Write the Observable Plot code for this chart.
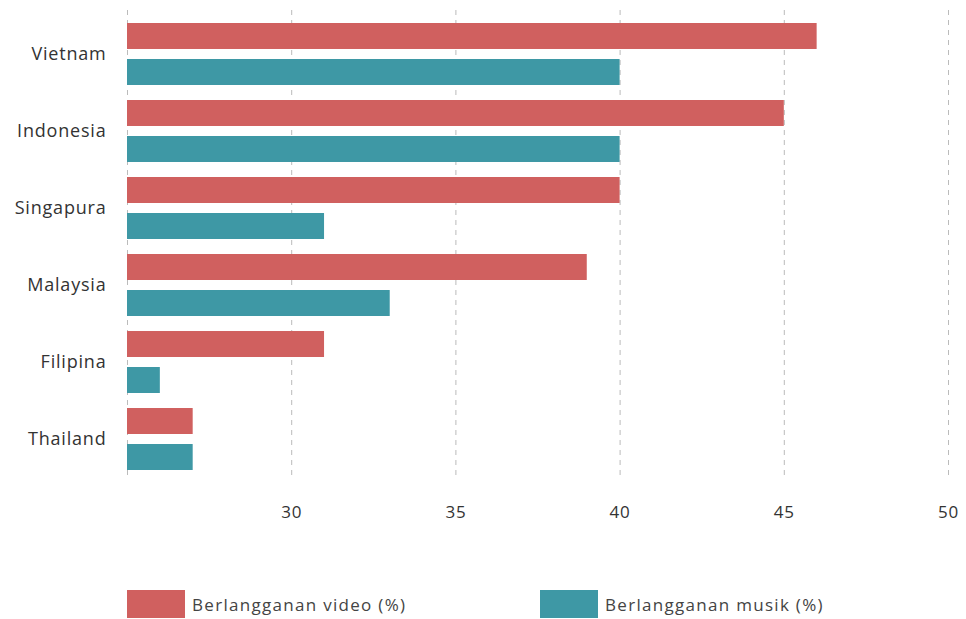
<!DOCTYPE html>
<html>
<head>
<meta charset="utf-8">
<script src="https://cdn.jsdelivr.net/npm/d3@7"></script>
<script src="https://cdn.jsdelivr.net/npm/@observablehq/plot@0.6"></script>
<style>
  html, body { margin: 0; padding: 0; background: #fff; }
  #wrap { position: relative; width: 966px; height: 619px; font-family: "Open Sans", sans-serif; }
  .legend-item { position: absolute; top: 590px; display: flex; align-items: center; font-size: 17px; letter-spacing: 1.3px; color: #444; }
  .sw { width: 58px; height: 28px; margin-right: 7px; }
  svg g[aria-label="y-axis tick label"] { letter-spacing: 0.8px; }
  svg g[aria-label="x-axis tick label"] { letter-spacing: 0.8px; }
</style>
</head>
<body>
<div id="wrap"></div>
<script>
const countries = ["Vietnam", "Indonesia", "Singapura", "Malaysia", "Filipina", "Thailand"];
const video = [46, 45, 40, 39, 31, 27];
const music = [40, 40, 31, 33, 26, 27];
const xTicks = [30, 35, 40, 45, 50];
const gridTicks = [25, 30, 35, 40, 45, 50];
const xMin = 25, xMax = 50;
const seriesNames = ["Berlangganan video (%)", "Berlangganan musik (%)"];
const colors = ["#d0605f", "#3e98a5"];

const videoData = countries.map((c, i) => ({country: c, value: video[i]}));
const musicData = countries.map((c, i) => ({country: c, value: music[i]}));

const chart = Plot.plot({
  width: 966,
  height: 560,
  marginLeft: 127,
  marginRight: 18,
  marginTop: 10,
  marginBottom: 82,
  style: {fontFamily: "Open Sans, sans-serif", background: "#fff"},
  x: {domain: [xMin, xMax]},
  y: {domain: countries, range: [23, 470], paddingInner: 0.195, paddingOuter: 0, round: false},
  marks: [
    Plot.gridX(gridTicks, {stroke: "#bbb", strokeOpacity: 1, strokeDasharray: "5,5"}),
    Plot.barX(videoData, {y: "country", x1: () => xMin, x2: "value", fill: colors[0], insetBottom: 36}),
    Plot.barX(musicData, {y: "country", x1: () => xMin, x2: "value", fill: colors[1], insetTop: 36}),
    Plot.axisX({ticks: xTicks, tickSize: 0, tickPadding: 27, fontSize: 17, fill: "#333", label: null}),
    Plot.axisY({tickSize: 0, tickPadding: 21, fontSize: 18, fill: "#333", label: null})
  ]
});

const wrap = document.getElementById("wrap");
wrap.appendChild(chart);
const lefts = [127, 540];
seriesNames.forEach((name, i) => {
  const item = document.createElement("div");
  item.className = "legend-item";
  item.style.left = lefts[i] + "px";
  item.innerHTML = `<div class="sw" style="background:${colors[i]}"></div><span>${name}</span>`;
  wrap.appendChild(item);
});
</script>
</body>
</html>
